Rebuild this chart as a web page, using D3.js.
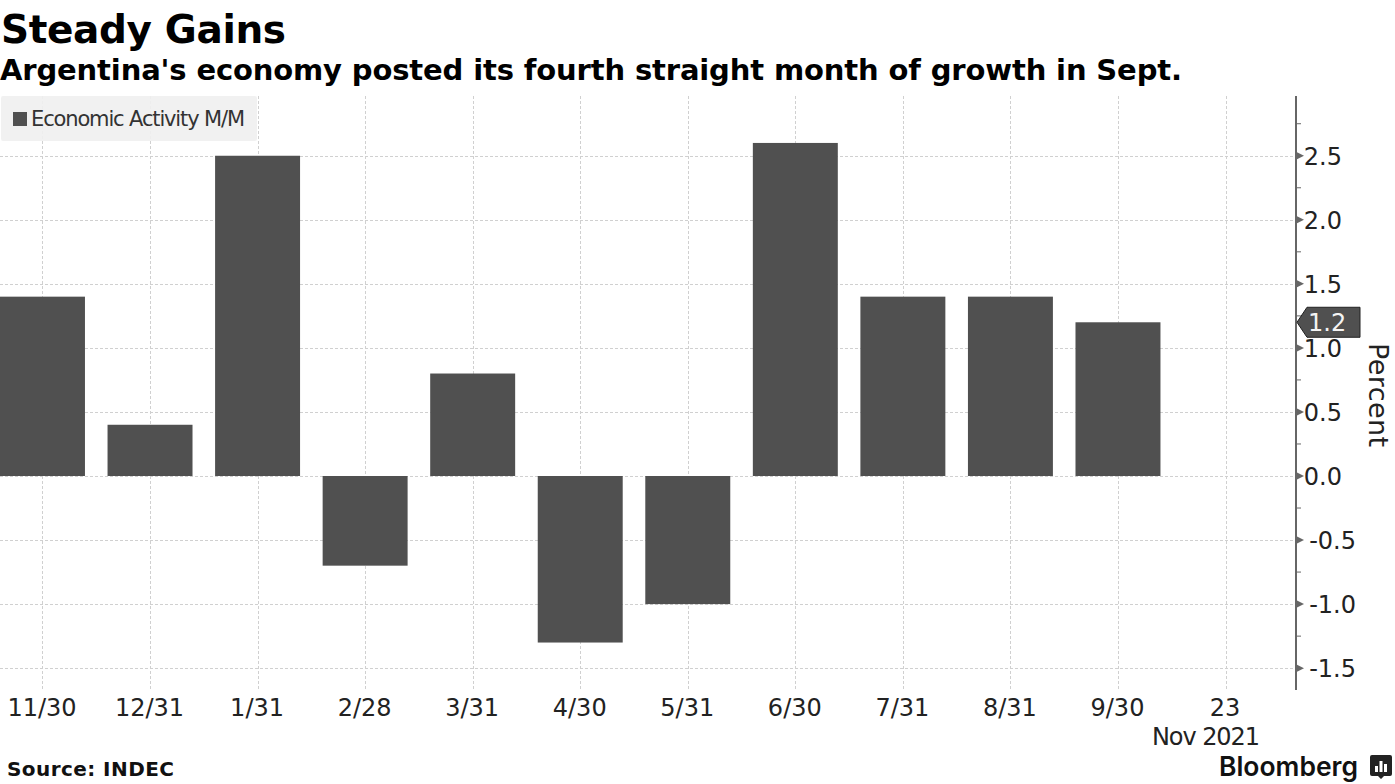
<!DOCTYPE html>
<html>
<head>
<meta charset="utf-8">
<script src="https://cdn.jsdelivr.net/npm/d3@7"></script>
<style>
  html, body { margin: 0; padding: 0; background: #fff; overflow: hidden; }
  svg { font-family: "DejaVu Sans", sans-serif; }
  .tick-label { font-size: 24px; fill: #222; }
</style>
</head>
<body>
<svg class="chart" width="1395" height="784"></svg>
<script>
// Datos
const categories = ['11/30', '12/31', '1/31', '2/28', '3/31', '4/30', '5/31', '6/30', '7/31', '8/31', '9/30', '23']
const values = [1.4, 0.4, 2.5, -0.7, 0.8, -1.3, -1.0, 2.6, 1.4, 1.4, 1.2]
const yMajor = [2.5, 2.0, 1.5, 1.0, 0.5, 0.0, -0.5, -1.0, -1.5]
const yMinor = [2.75, 2.25, 1.75, 1.25, 0.75, 0.25, -0.25, -0.75, -1.25]
const lastValue = 1.2

const svg = d3.select('.chart')

// Escalas
const yScale = d3.scaleLinear().domain([0, 2.5]).range([476, 155.75])
const xScale = d3.scaleBand()
    .domain(categories)
    .range([-11.3, 1279.3])
    .paddingInner(0.21)
    .paddingOuter(0.105)
const xMid = d => xScale(d) + xScale.bandwidth() / 2

const axisX = 1296
const plotTop = 96
const plotBottom = 690

// Grilla
svg.append('g').selectAll('line')
    .data(categories)
    .join('line')
    .attr('x1', d => Math.round(xMid(d)) + 0.5)
    .attr('x2', d => Math.round(xMid(d)) + 0.5)
    .attr('y1', plotTop)
    .attr('y2', plotBottom)
    .attr('stroke', '#d0d0d0')
    .attr('stroke-dasharray', '3,2')

svg.append('g').selectAll('line')
    .data(yMajor)
    .join('line')
    .attr('x1', 0)
    .attr('x2', axisX)
    .attr('y1', d => Math.round(yScale(d)) + 0.5)
    .attr('y2', d => Math.round(yScale(d)) + 0.5)
    .attr('stroke', '#d0d0d0')
    .attr('stroke-dasharray', '3,2')

// Leyenda
svg.append('rect')
    .attr('x', 1).attr('y', 96).attr('width', 256).attr('height', 45)
    .attr('rx', 2)
    .attr('fill', '#f0f0f0')
    .attr('fill-opacity', 0.9)
svg.append('rect')
    .attr('x', 13).attr('y', 112).attr('width', 14).attr('height', 14)
    .attr('fill', '#505050')
svg.append('text')
    .text('Economic Activity M/M')
    .attr('x', 31).attr('y', 126)
    .attr('textLength', 214)
    .attr('font-size', '21px')
    .attr('fill', '#333')

// Barras
svg.append('g').selectAll('rect')
    .data(values)
    .join('rect')
    .attr('x', (d, i) => xScale(categories[i]))
    .attr('y', d => yScale(Math.max(d, 0)))
    .attr('width', xScale.bandwidth())
    .attr('height', d => Math.abs(yScale(d) - yScale(0)))
    .attr('fill', '#505050')

// Eje Y
const yAxis = svg.append('g')
yAxis.append('line')
    .attr('x1', axisX).attr('x2', axisX)
    .attr('y1', plotTop).attr('y2', plotBottom)
    .attr('stroke', '#666')
    .attr('stroke-width', 2)

yAxis.selectAll('.minor')
    .data(yMinor)
    .join('line')
    .attr('class', 'minor')
    .attr('x1', axisX).attr('x2', axisX + 5)
    .attr('y1', d => yScale(d))
    .attr('y2', d => yScale(d))
    .attr('stroke', '#666')

yAxis.selectAll('.major')
    .data(yMajor)
    .join('path')
    .attr('class', 'major')
    .attr('d', d => `M${axisX},${yScale(d) - 4}L${axisX + 8},${yScale(d)}L${axisX},${yScale(d) + 4}Z`)
    .attr('fill', '#666')

yAxis.selectAll('.tick-label')
    .data(yMajor)
    .join('text')
    .attr('class', 'tick-label')
    .text(d => (d < 0 ? '-' : '') + Math.abs(d).toFixed(1))
    .attr('x', 1342)
    .attr('y', d => yScale(d) + 9)
    .attr('text-anchor', 'end')
    .attr('dx', d => d < 0 ? 14 : 0)

// Etiqueta del ultimo valor
const ly = yScale(lastValue)
svg.append('path')
    .attr('d', `M${axisX + 1},${ly}L${axisX + 11},${ly - 15}H${axisX + 64}V${ly + 15}H${axisX + 11}Z`)
    .attr('fill', '#505050')
    .attr('stroke', '#222')
svg.append('text')
    .text(lastValue.toFixed(1))
    .attr('x', 1308).attr('y', ly + 9)
    .attr('font-size', '24px')
    .attr('fill', '#f4f4f4')

svg.append('text')
    .text('Percent')
    .attr('transform', 'translate(1369, 395) rotate(90)')
    .attr('text-anchor', 'middle')
    .attr('font-size', '27px')
    .attr('textLength', 104)
    .attr('fill', '#222')

// Eje X
svg.append('g').selectAll('text')
    .data(categories)
    .join('text')
    .attr('class', 'tick-label')
    .text(d => d)
    .attr('x', d => xMid(d) - 0.5)
    .attr('y', 716)
    .attr('text-anchor', 'middle')

svg.append('text')
    .attr('class', 'tick-label')
    .text('Nov 2021')
    .attr('x', 1206).attr('y', 745)
    .attr('text-anchor', 'middle')
    .attr('textLength', 108)

// Textos
svg.append('text')
    .text('Steady Gains')
    .attr('x', 1).attr('y', 43)
    .attr('font-size', '39px')
    .attr('font-weight', 'bold')
    .attr('textLength', 285)
    .attr('fill', '#000')

svg.append('text')
    .text("Argentina's economy posted its fourth straight month of growth in Sept.")
    .attr('x', 0).attr('y', 80)
    .attr('font-size', '29px')
    .attr('font-weight', 'bold')
    .attr('textLength', 1182)
    .attr('fill', '#000')

svg.append('text')
    .text('Source: INDEC')
    .attr('x', 7).attr('y', 776)
    .attr('font-size', '20px')
    .attr('font-weight', 'bold')
    .attr('textLength', 167)
    .attr('fill', '#111')

svg.append('text')
    .text('Bloomberg')
    .attr('x', 1219).attr('y', 776)
    .style('font-family', 'Inter, sans-serif')
    .attr('font-size', '27px')
    .attr('font-weight', 600)
    .attr('textLength', 139)
    .attr('lengthAdjust', 'spacingAndGlyphs')
    .attr('fill', '#111')

// Icono
svg.append('path')
    .attr('d', 'M1372,755h18a2,2 0 0 1 2,2v17a2,2 0 0 1 -2,2h-6l-3,3l-3,-3h-6a2,2 0 0 1 -2,-2v-17a2,2 0 0 1 2,-2Z')
    .attr('fill', '#222')
svg.append('g').selectAll('rect')
    .data([6, 11, 8])
    .join('rect')
    .attr('x', (d, i) => 1375 + i * 4.5)
    .attr('y', d => 772 - d)
    .attr('width', 3)
    .attr('height', d => d)
    .attr('fill', '#fff')
</script>
</body>
</html>
